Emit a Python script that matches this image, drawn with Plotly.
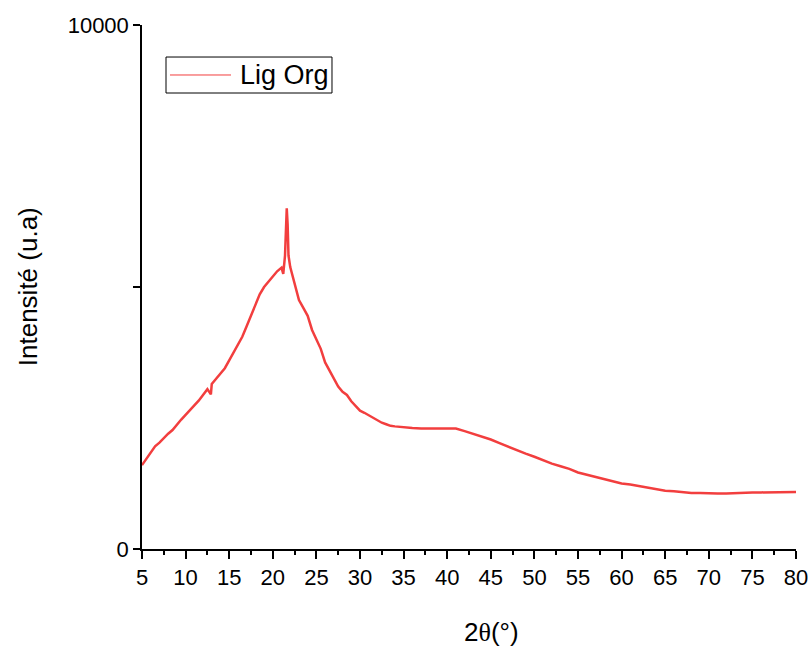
import plotly.graph_objects as go

two_theta = [5, 5.5, 6, 6.5, 7, 7.5, 8, 8.5, 9, 9.5, 10, 10.5, 11, 11.5, 12, 12.5, 12.9, 13, 13.5, 14,
             14.5, 15, 15.5, 16, 16.5, 17, 17.5, 18, 18.5, 19, 19.5, 20, 20.5, 21, 21.2, 21.4, 21.5,
             21.6, 21.7, 21.8, 22, 22.5, 23, 23.5, 24, 24.5, 25, 25.5, 26, 26.5, 27, 27.5, 28, 28.5,
             29, 29.5, 30, 30.5, 31, 31.5, 32, 32.5, 33, 33.5, 34, 35, 36, 37, 38, 39, 40, 41, 42,
             43, 44, 45, 46, 47, 48, 49, 50, 51, 52, 53, 54, 55, 56, 57, 58, 59, 60, 61, 62, 63, 64,
             65, 66, 67, 68, 69, 70, 71, 72, 73, 74, 75, 76, 77, 78, 79, 80]
intensity = [1600, 1720, 1830, 1960, 2030, 2120, 2200, 2270, 2380, 2470, 2560, 2660, 2740, 2830, 2950, 3050, 2950, 3150, 3250, 3350,
             3450, 3600, 3760, 3900, 4050, 4250, 4450, 4650, 4860, 5000, 5100, 5200, 5300, 5370, 5250, 5600, 6100,
             6500, 6200, 5600, 5380, 5050, 4750, 4600, 4450, 4180, 3990, 3820, 3560, 3400, 3260, 3100, 3000, 2940,
             2820, 2730, 2640, 2600, 2550, 2500, 2450, 2410, 2380, 2350, 2340, 2320, 2310, 2300, 2300, 2300, 2310, 2300, 2250,
             2200, 2150, 2090, 2020, 1950, 1880, 1820, 1760, 1690, 1630, 1580, 1530, 1460, 1420, 1370, 1330, 1290, 1250, 1230, 1200, 1180, 1150,
             1110, 1100, 1080, 1070, 1070, 1060, 1060, 1060, 1070, 1070, 1080, 1080, 1080, 1090, 1090, 1090]

series_name = "Lig Org"
x_ticks = list(range(5, 81, 5))
y_ticks = [0, 5000, 10000]
y_tick_labels = ["0", "", "10000"]

FONT = "Liberation Sans, Arial, sans-serif"
LINE_COLOR = "rgb(242,62,62)"

fig = go.Figure()
fig.add_trace(go.Scatter(x=two_theta, y=intensity, mode="lines", name=series_name,
                         line=dict(color=LINE_COLOR, width=2.5), showlegend=False))

fig.update_layout(
    width=811, height=648,
    margin=dict(l=142, r=15, t=25, b=99, autoexpand=False),
    plot_bgcolor="white", paper_bgcolor="white",
    font=dict(family=FONT, color="black", size=22),
    showlegend=False,
    xaxis=dict(range=[5, 80], tickvals=x_ticks, ticks="outside", ticklen=8, tickwidth=1.5,
               tickcolor="black", showline=True, linecolor="black", linewidth=1.5,
               showgrid=False, zeroline=False, tickfont=dict(size=22), automargin=False,
               minor=dict(dtick=2.5, tick0=5, ticks="outside", ticklen=4, tickwidth=1.5, tickcolor="black", showgrid=False)),
    yaxis=dict(range=[0, 10000], tickvals=y_ticks, ticktext=y_tick_labels, ticks="outside", ticklen=7,
               tickwidth=1.5, tickcolor="black", showline=True, linecolor="black", linewidth=1.5,
               showgrid=False, zeroline=False, tickfont=dict(size=22), automargin=False),
)

# legend drawn as box + sample line + label
fig.add_shape(type="rect", xref="paper", yref="paper", x0=0.0367, x1=0.2905, y0=0.8702, y1=0.9389,
              line=dict(color="black", width=1), fillcolor="white", layer="above")
fig.add_shape(type="line", xref="paper", yref="paper", x0=0.0428, x1=0.1361, y0=0.9046, y1=0.9046,
              line=dict(color=LINE_COLOR, width=1), layer="above")
fig.add_annotation(text=series_name, x=0.1468, y=0.9046, xref="paper", yref="paper",
                   xanchor="left", yanchor="middle", showarrow=False, font=dict(size=27))

fig.add_annotation(text="2<span style='font-family:Liberation Serif'>θ</span>(°)", x=0.534, y=-0.158,
                   xref="paper", yref="paper", xanchor="center", yanchor="middle", showarrow=False,
                   font=dict(size=26))
fig.add_annotation(text="Intensité (u.a)", x=-0.174, y=0.5, xref="paper", yref="paper",
                   xanchor="center", yanchor="middle", textangle=-90, showarrow=False, font=dict(size=26))

fig.write_html("out.html", config={"displayModeBar": False},
               post_script="document.body.style.margin='0';document.body.style.padding='0';")
